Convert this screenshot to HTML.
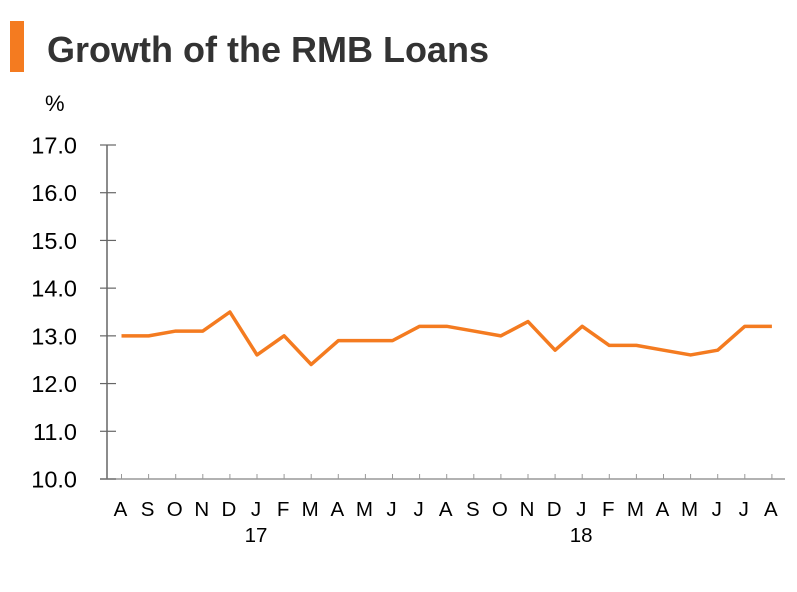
<!DOCTYPE html>
<html><head><meta charset="utf-8"><style>
body{margin:0;background:#fff;width:797px;height:587px;overflow:hidden;font-family:"Liberation Sans",sans-serif}
</style></head><body>
<svg width="797" height="587">
<rect x="10" y="21" width="14" height="51" fill="#f47b20"/>
<text x="47" y="62" font-size="36" font-weight="bold" fill="#333">Growth of the RMB Loans</text>
<text x="45" y="111" font-size="22" fill="#000">%</text>
<g id="axes"></g>
<g id="marks"></g>
</svg>
<script>
const months=["A","S","O","N","D","J","F","M","A","M","J","J","A","S","O","N","D","J","F","M","A","M","J","J","A"];
const years=[{i:5,t:"17"},{i:17,t:"18"}];
const values=[13.0,13.0,13.1,13.1,13.5,12.6,13.0,12.4,12.9,12.9,12.9,13.2,13.2,13.1,13.0,13.3,12.7,13.2,12.8,12.8,12.7,12.6,12.7,13.2,13.2];
const yTicks=[10,11,12,13,14,15,16,17];
const yLabels=["10.0","11.0","12.0","13.0","14.0","15.0","16.0","17.0"];
const NS="http://www.w3.org/2000/svg";
const y=v=>479-(v-10)*(479-145)/7;
const x=i=>121.5+i*27.1;
const ax=document.getElementById('axes'),mk=document.getElementById('marks');
function el(t,a,p){const e=document.createElementNS(NS,t);for(const k in a)e.setAttribute(k,a[k]);p.appendChild(e);return e;}
let l=el('line',{x1:107,y1:145,x2:107,y2:479,stroke:'#666','stroke-width':1.5},ax);


l=el('line',{x1:100,y1:479,x2:785,y2:479,stroke:'#999','stroke-width':1.5},ax);


yTicks.forEach((v,k)=>{
 const t=el('line',{x1:100,y1:y(v),x2:116,y2:y(v),stroke:'#666','stroke-width':1.2},ax);
 
 
 const tx=el('text',{x:77,y:y(v)+8.5,'font-size':23.5,'text-anchor':'end',fill:'#000'},ax);
 tx.textContent=yLabels[k];
 
 
});
months.forEach((m,i)=>{
 const t=el('line',{x1:x(i),y1:479,x2:x(i),y2:474,stroke:'#999','stroke-width':1},ax);
 
 
 const tx=el('text',{x:x(i)-1,y:516,'font-size':20.5,'text-anchor':'middle',fill:'#000'},ax);
 tx.textContent=m;
 
 
});
years.forEach(o=>{
 const tx=el('text',{x:x(o.i)-1,y:542,'font-size':20.5,'text-anchor':'middle',fill:'#000'},ax);
 tx.textContent=o.t;
 
 
});
const p=el('polyline',{points:values.map((v,i)=>x(i)+','+y(v)).join(' '),fill:'none',stroke:'#f47b20','stroke-width':3.5,'stroke-linejoin':'round'},mk);


</script>
</body></html>
